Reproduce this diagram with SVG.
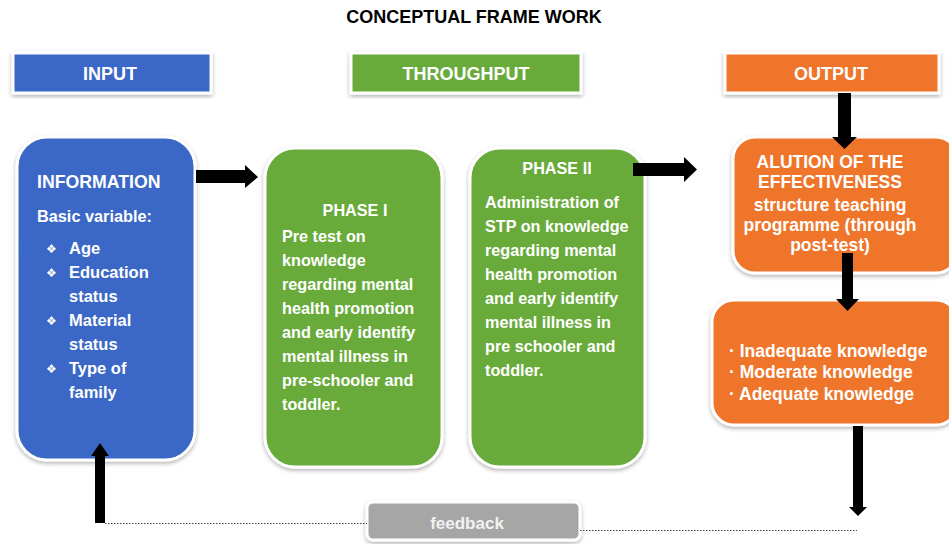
<svg xmlns="http://www.w3.org/2000/svg" width="949" height="544" viewBox="0 0 949 544">
<defs>
<filter id="sh" x="-10%" y="-10%" width="120%" height="125%">
<feDropShadow dx="0" dy="2" stdDeviation="2" flood-color="#000" flood-opacity="0.3"/>
</filter>
<style>
text{font-family:"Liberation Sans",Arial,sans-serif;font-weight:bold;fill:#fff}
.box{stroke:#fff;stroke-width:3;filter:url(#sh)}
.blue{fill:#3a67c6}
.green{fill:#67ab3b}
.orange{fill:#ee7529}
.gray{fill:#a6a6a6}
.hdr{font-size:18px;text-anchor:middle}
.t16{font-size:16.2px}
.t165{font-size:16.5px}
.t175{font-size:17.5px}
.bul{font-family:"DejaVu Sans",sans-serif;font-size:12px;font-weight:normal}
.arr{fill:#000}
.dot{stroke:#444;stroke-width:1;stroke-dasharray:1.5 1.5;fill:none}
</style>
</defs>
<rect width="949" height="544" fill="#fff"/>
<text x="474" y="23" text-anchor="middle" style="fill:#000;font-size:18px">CONCEPTUAL FRAME WORK</text>

<g id="input-header">
<rect class="box blue" x="13" y="53" width="198" height="40"/>
<text class="hdr" x="110" y="80">INPUT</text>
</g>
<g id="throughput-header">
<rect class="box green" x="351" y="53" width="230" height="40"/>
<text class="hdr" x="466" y="80">THROUGHPUT</text>
</g>
<g id="output-header">
<rect class="box orange" x="725" y="53" width="214" height="40"/>
<text class="hdr" x="831" y="80">OUTPUT</text>
</g>

<g id="information">
<rect class="box blue" x="17" y="137" width="178" height="323" rx="30"/>
<text x="37" y="188" style="font-size:17.7px">INFORMATION</text>
<text x="37" y="222" style="font-size:16.3px">Basic variable:</text>
<text class="bul" x="46" y="253">❖</text>
<text class="t165" x="69" y="254">Age</text>
<text class="bul" x="46" y="277">❖</text>
<text class="t165" x="69" y="278">Education</text>
<text class="t165" x="69" y="302">status</text>
<text class="bul" x="46" y="325">❖</text>
<text class="t165" x="69" y="326">Material</text>
<text class="t165" x="69" y="350">status</text>
<text class="bul" x="46" y="373">❖</text>
<text class="t165" x="69" y="374">Type of</text>
<text class="t165" x="69" y="398">family</text>
</g>

<g id="phase1">
<rect class="box green" x="265" y="148" width="177" height="319" rx="30"/>
<text class="t16" x="355" y="216" text-anchor="middle">PHASE I</text>
<text class="t16" x="282" y="242">Pre test on</text>
<text class="t16" x="282" y="266">knowledge</text>
<text class="t16" x="282" y="290">regarding mental</text>
<text class="t16" x="282" y="314">health promotion</text>
<text class="t16" x="282" y="338">and early identify</text>
<text class="t16" x="282" y="362">mental illness in</text>
<text class="t16" x="282" y="386">pre-schooler and</text>
<text class="t16" x="282" y="410">toddler.</text>
</g>

<g id="phase2">
<rect class="box green" x="470" y="148" width="175" height="319" rx="30"/>
<text class="t16" x="557" y="174" text-anchor="middle">PHASE II</text>
<text class="t16" x="485" y="208">Administration of</text>
<text class="t16" x="485" y="232">STP on knowledge</text>
<text class="t16" x="485" y="256">regarding mental</text>
<text class="t16" x="485" y="280">health promotion</text>
<text class="t16" x="485" y="304">and early identify</text>
<text class="t16" x="485" y="328">mental illness in</text>
<text class="t16" x="485" y="352">pre schooler and</text>
<text class="t16" x="485" y="376">toddler.</text>
</g>

<g id="evaluation">
<rect class="box orange" x="733" y="137" width="225" height="136" rx="22"/>
<text class="t175" x="830" y="168" text-anchor="middle">ALUTION OF THE</text>
<text class="t175" x="830" y="188" text-anchor="middle">EFFECTIVENESS</text>
<text class="t175" x="830" y="211" text-anchor="middle">structure teaching</text>
<text class="t175" x="830" y="231" text-anchor="middle">programme (through</text>
<text class="t175" x="830" y="251" text-anchor="middle">post-test)</text>
</g>

<g id="knowledge">
<rect class="box orange" x="712" y="300" width="246" height="125" rx="22"/>
<text class="t175" x="729" y="357">· Inadequate knowledge</text>
<text class="t175" x="729" y="378">· Moderate knowledge</text>
<text class="t175" x="729" y="400">· Adequate knowledge</text>
</g>

<g id="feedback">
<rect class="box gray" x="367" y="502" width="213" height="38" rx="6"/>
<text x="467" y="529" text-anchor="middle" style="font-size:17px;fill:#f2f2f2">feedback</text>
</g>

<g id="connectors">
<polygon class="arr" points="196,170 245,170 245,165 258,177 245,188 245,183 196,183"/>
<polygon class="arr" points="633,163 684,163 684,157 697,169.5 684,182 684,176 633,176"/>
<polygon class="arr" points="838,93 851,93 851,137 857,137 844.5,149 832,137 838,137"/>
<polygon class="arr" points="842,253 853,253 853,299 859,299 847.5,311 836,299 842,299"/>
<polygon class="arr" points="853,426 863,426 863,507 867,507 858,516 849,507 853,507"/>
<polygon class="arr" points="95,523 105,523 105,456 109,456 100,443 91,456 95,456"/>
<path class="dot" d="M105,523.5 H367"/>
<path class="dot" d="M580,530.5 H857"/>
</g>
</svg>
